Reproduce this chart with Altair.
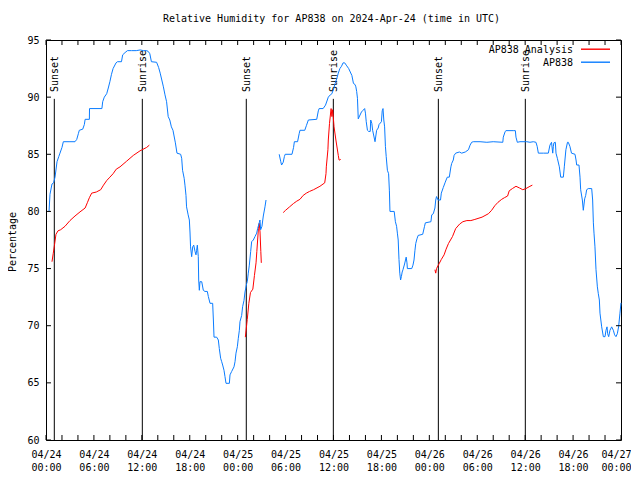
import json
import altair as alt
import pandas as pd

# ---------------- data (hours since 2024-04-24 00:00 UTC, relative humidity %) ----------------
obs1_h = [0.38, 0.5, 0.75, 0.95, 1.13, 1.38, 1.6, 1.75, 2.0, 2.17, 3.0, 3.63, 3.85, 4.05, 4.17, 4.6, 4.8, 4.9,
          5.43, 5.45, 7.0, 7.1, 7.3, 7.6, 7.8, 8.0, 8.2, 8.4, 8.77, 8.95, 9.45, 9.6, 9.9, 10.2, 10.7, 11.3, 11.8,
          12.2, 12.6, 12.8, 13.0, 13.2, 13.85, 14.1, 14.3, 14.5, 14.7, 14.9, 15.1, 15.3, 15.5, 15.7, 15.9, 16.2,
          16.4, 16.86, 16.99, 17.1, 17.3, 17.4, 17.53, 17.6, 17.8, 17.95, 18.03, 18.1, 18.24, 18.37, 18.5, 18.66,
          18.78, 18.86, 18.95, 19.07, 19.12, 19.2, 19.28, 19.5, 19.7, 19.9, 20.2, 20.33, 20.54, 20.87, 20.96,
          21.04, 21.37, 21.58, 21.7, 21.87, 22.0, 22.12, 22.29, 22.41, 22.54, 22.96, 23.04, 23.25, 23.54, 23.67,
          23.79, 23.96, 24.08, 24.21, 24.29, 24.5, 24.62, 24.79, 24.92, 25.13, 25.2, 25.33, 25.46, 25.63, 25.75,
          25.96, 26.17, 26.38, 26.5, 26.7, 26.79, 26.88, 27.04, 27.21, 27.42, 27.55]
obs1_v = [80.0, 81.5, 82.4, 82.5, 83.0, 84.35, 84.8, 85.1, 85.6, 86.1, 86.1, 86.1, 86.3, 86.8, 87.1, 87.2, 87.6, 88.06,
          88.06, 89.0, 89.0, 89.6, 90.0, 90.3, 90.8, 91.35, 92.0, 92.5, 93.0, 93.1, 93.1, 93.7, 93.9, 94.07, 94.07,
          94.07, 94.13, 94.07, 94.07, 94.0, 93.8, 93.1, 93.05, 92.6, 92.1, 91.5, 90.9, 90.2, 89.6, 88.3, 88.0, 87.4,
          87.1, 86.0, 85.1, 85.0, 84.65, 83.6, 82.9, 82.3, 81.4, 80.4, 79.7, 79.25, 78.2, 76.9, 76.04, 76.9, 77.05,
          76.5, 76.2, 76.6, 77.05, 76.04, 74.0, 73.1, 73.85, 73.85, 73.1, 73.0, 73.0, 72.55, 71.96, 71.96, 70.5,
          69.0, 69.0, 68.75, 68.0, 67.15, 66.85, 66.56, 66.1, 65.55, 64.96, 64.96, 65.7, 66.0, 66.4, 66.85, 67.6,
          68.16, 68.9, 69.6, 70.35, 70.9, 71.66, 72.2, 72.95, 73.7, 73.85, 74.6, 75.3, 76.5, 77.35, 77.5, 77.8,
          78.1, 78.5, 79.0, 79.25, 78.4, 78.7, 79.6, 80.4, 81.0]

obs2_h = [29.2, 29.4, 29.5, 29.7, 29.85, 29.95, 30.8, 31.0, 31.1, 31.5, 31.7, 31.8, 32.4, 32.6, 32.85, 33.9, 34.1,
          34.2, 34.7, 35.0, 35.35, 35.6, 35.8, 36.0, 36.2, 36.4, 36.6, 36.8, 37.0, 37.2, 37.4, 37.6, 37.9, 38.1,
          38.3, 38.5, 38.7, 38.8, 38.9, 39.0, 39.1, 39.5, 39.7, 39.9, 40.0, 40.1, 40.25, 40.4, 40.6, 40.66, 40.8,
          40.9, 41.05, 41.2, 41.3, 41.4, 41.6, 41.7, 42.0, 42.1, 42.2, 42.3, 42.4, 42.5, 42.6, 42.75, 42.9, 43.0,
          43.07, 43.6, 43.75, 43.9, 44.0, 44.1, 44.2, 44.3, 44.4, 44.5, 44.6, 44.7, 44.9, 45.1, 45.2, 45.25, 45.8,
          45.95, 46.08, 46.2, 46.3, 46.45, 46.6, 47.17, 47.4, 47.5, 48.2, 48.3, 48.5, 48.7, 48.8, 48.9, 49.1, 49.4,
          49.5, 49.75, 49.96, 50.1, 50.25, 50.5, 50.7, 50.8, 51.0, 51.1, 51.3, 51.76, 52.05, 52.5, 52.9, 53.1,
          53.3, 53.5, 54.35, 55.2, 56.0, 57.2, 57.26, 57.5, 57.6, 58.5, 58.77, 58.85, 59.02, 59.35, 60.2, 60.6,
          61.02, 61.35, 61.5, 61.65, 62.3, 62.9, 63.1, 63.3, 63.45, 63.53, 63.6, 63.78, 63.86, 64.03, 64.28, 64.45,
          64.78, 64.9, 65.1, 65.3, 65.4, 65.6, 65.8, 66.24, 66.37, 66.45, 66.74, 66.87, 66.95, 67.16, 67.28, 67.45,
          67.58, 67.7, 67.9, 68.33, 68.45, 68.54, 68.62, 68.74, 68.87, 69.04, 69.16, 69.29, 69.37, 69.58, 69.79,
          70.0, 70.12, 70.25, 70.33, 70.46, 70.62, 70.83, 71.04, 71.2, 71.37, 71.54, 71.7, 71.87, 72.0]
obs2_v = [85.0, 84.35, 84.06, 84.3, 84.8, 85.0, 85.0, 85.6, 86.1, 86.1, 86.8, 87.1, 87.1, 87.5, 88.0, 88.06, 88.8,
          89.0, 89.0, 89.3, 90.0, 90.2, 90.3, 90.7, 91.2, 91.6, 92.1, 92.5, 92.7, 93.0, 93.0, 92.8, 92.5, 92.2,
          91.9, 91.2, 91.1, 90.9, 90.5, 89.9, 88.1, 88.7, 88.85, 89.0, 88.6, 87.85, 87.1, 87.0, 87.0, 88.0, 87.7,
          87.1, 86.6, 86.1, 86.6, 87.1, 87.3, 87.6, 87.85, 88.8, 89.0, 88.0, 87.4, 85.7, 84.8, 83.6, 83.3, 81.8,
          80.0, 80.0, 79.1, 78.7, 78.1, 77.5, 75.8, 74.6, 74.0, 74.3, 74.7, 74.9, 75.4, 76.0, 75.5, 75.0, 75.0,
          75.3, 75.75, 76.6, 77.2, 77.6, 77.9, 78.0, 78.7, 79.0, 79.1, 79.7, 79.8, 80.3, 81.0, 81.3, 81.0, 81.0,
          81.6, 82.1, 82.5, 82.75, 83.0, 83.0, 83.9, 84.2, 84.5, 84.9, 85.1, 85.2, 85.1, 85.2, 85.4, 85.8,
          86.05, 86.1, 86.1, 86.05, 86.1, 86.05, 86.5, 87.0, 87.07, 87.07, 87.07, 86.5, 86.05, 86.1, 86.1, 86.05,
          86.1, 86.05, 85.7, 85.1, 85.1, 85.1, 85.8, 86.05, 85.1, 85.7, 86.0, 86.05, 85.1, 84.65, 83.9, 83.0,
          83.0, 83.9, 85.4, 86.05, 86.05, 85.7, 85.1, 85.0, 84.5, 84.06, 84.06, 83.0, 81.9, 81.0, 80.1, 81.1,
          81.4, 81.9, 82.0, 82.0, 81.0, 79.0, 78.1, 76.9, 74.9, 73.4, 72.8, 72.25, 71.1, 69.9, 69.04,
          69.04, 69.6, 69.9, 69.3, 69.04, 69.6, 69.9, 69.6, 69.2, 69.04, 69.3, 69.9, 71.1, 72.0]

ana1_h = [0.75, 0.9, 1.05, 1.25, 1.5, 1.84, 2.38, 3.0, 3.63, 4.26, 4.9, 5.2, 5.43, 5.72, 6.3, 6.85, 7.2, 7.6, 8.0,
          8.4, 8.8, 9.27, 10.1, 10.93, 11.77, 12.6, 12.94]
ana1_v = [75.6, 76.3, 77.0, 78.0, 78.3, 78.4, 78.7, 79.2, 79.6, 79.96, 80.3, 80.8, 81.2, 81.6, 81.7, 81.9, 82.3,
          82.7, 83.0, 83.3, 83.7, 83.9, 84.4, 84.9, 85.3, 85.6, 85.8]
ana2_h = [24.96, 25.2, 25.4, 25.6, 25.9, 26.1, 26.3, 26.4, 26.5, 26.6, 26.7, 26.8, 26.9, 26.96]
ana2_v = [69.0, 70.55, 71.96, 72.9, 73.2, 74.4, 75.5, 76.5, 77.5, 78.5, 78.96, 78.2, 76.5, 75.5]
ana3_h = [29.7, 30.0, 30.5, 31.0, 31.4, 31.8, 32.2, 32.6, 33.0, 33.5, 34.3, 34.9, 35.06, 35.1, 35.3, 35.35, 35.5,
          35.65, 35.7, 35.8, 35.9, 36.07, 36.3, 36.6, 36.7, 36.8, 36.9]
ana3_v = [79.9, 80.1, 80.4, 80.7, 80.9, 81.06, 81.4, 81.6, 81.75, 81.9, 82.2, 82.5, 83.3, 83.9, 85.4, 86.25, 87.7,
          88.7, 89.0, 88.3, 88.9, 87.4, 86.25, 84.9, 84.5, 84.5, 84.56]
ana4_h = [48.7, 48.8, 48.9, 49.25, 49.5, 49.85, 50.1, 50.4, 50.9, 51.3, 51.8, 52.2, 52.7, 53.2, 53.7, 54.6, 55.4,
          55.8, 56.2, 56.6, 57.06, 57.4, 57.8, 58.0, 58.4, 58.85, 59.3, 59.7, 60.1, 60.6, 60.9]
ana4_v = [74.9, 74.6, 75.0, 75.46, 75.8, 76.2, 76.7, 77.2, 77.8, 78.5, 78.9, 79.1, 79.2, 79.2, 79.3, 79.5, 79.8,
          80.1, 80.5, 80.8, 81.06, 81.2, 81.35, 81.8, 82.0, 82.2, 82.05, 81.9, 82.0, 82.2, 82.3]

series_names = ["AP838 Analysis", "AP838"]
series_colors = ["#ff0000", "#0a7cff"]

sun_h = [1.04, 12.06, 25.08, 35.98, 49.13, 60.02]
sun_labels = ["Sunset", "Sunrise", "Sunset", "Sunrise", "Sunset", "Sunrise"]

x_tick_hours = list(range(0, 73, 6))
x_tick_labels = [["04/24", "00:00"], ["04/24", "06:00"], ["04/24", "12:00"], ["04/24", "18:00"],
                 ["04/25", "00:00"], ["04/25", "06:00"], ["04/25", "12:00"], ["04/25", "18:00"],
                 ["04/26", "00:00"], ["04/26", "06:00"], ["04/26", "12:00"], ["04/26", "18:00"],
                 ["04/27", "00:00"]]
x_minor_hours = list(range(0, 73, 2))
y_ticks = [60, 65, 70, 75, 80, 85, 90, 95]

title_text = "Relative Humidity for AP838 on 2024-Apr-24 (time in UTC)"
y_title = "Percentage"

# ---------------- build tables ----------------
rows = []
for seg, (hs, vs, name) in enumerate([
    (ana1_h, ana1_v, series_names[0]), (ana2_h, ana2_v, series_names[0]),
    (ana3_h, ana3_v, series_names[0]), (ana4_h, ana4_v, series_names[0]),
    (obs1_h, obs1_v, series_names[1]), (obs2_h, obs2_v, series_names[1])]):
    for i, (h, v) in enumerate(zip(hs, vs)):
        rows.append({"h": h, "v": v, "series": name, "seg": seg, "order": i})
df = pd.DataFrame(rows)
sun_df = pd.DataFrame({"h": sun_h, "label": sun_labels})
xt_df = pd.DataFrame({"h": x_minor_hours})
yt_df = pd.DataFrame({"v": y_ticks})

FONT = "DejaVu Sans Mono"
W, H = 575, 400

label_expr = f"{json.dumps(x_tick_labels)}[round(datum.value / 6)]"
X = alt.X("h:Q", scale=alt.Scale(domain=[0, 72], nice=False, zero=False),
          axis=alt.Axis(values=x_tick_hours, labelExpr=label_expr, title=None, labelPadding=9,
                        labelLineHeight=13, labelOverlap=False, labelFlush=False,
                        labelOffset={"condition": {"test": "datum.value >= 72", "value": -5}, "value": 0}))
Y = alt.Y("v:Q", scale=alt.Scale(domain=[60, 95], nice=False, zero=False),
          axis=alt.Axis(values=y_ticks, title=None, labelPadding=7))
color = alt.Color("series:N", scale=alt.Scale(domain=series_names, range=series_colors), legend=None)

lines = alt.Chart(df).mark_line(strokeWidth=1, interpolate="linear").encode(
    x=X, y=Y, color=color, detail="seg:N", order="order:Q")

sun_rules = alt.Chart(sun_df).mark_rule(color="black", strokeWidth=1).encode(
    x=X, y=alt.datum(89.85), y2=alt.datum(60))
sun_text = alt.Chart(sun_df).mark_text(angle=270, align="left", baseline="middle", font=FONT,
                                       fontSize=10, color="black", dy=1).encode(
    x=X, y=alt.datum(90.45), text="label:N")

xt_bottom = alt.Chart(xt_df).mark_rule(color="black").encode(x=X, y=alt.value(H), y2=alt.value(H - 5))
xt_top = alt.Chart(xt_df).mark_rule(color="black").encode(x=X, y=alt.value(0), y2=alt.value(5))
yt_left = alt.Chart(yt_df).mark_rule(color="black").encode(y=Y, x=alt.value(0), x2=alt.value(5))
yt_right = alt.Chart(yt_df).mark_rule(color="black").encode(y=Y, x=alt.value(W), x2=alt.value(W - 5))

title = alt.Chart(pd.DataFrame({"t": [title_text]})).mark_text(
    font=FONT, fontSize=10, align="center", baseline="middle", color="black").encode(
    x=alt.value(W / 2 - 2), y=alt.value(-21), text="t:N")
ytitle = alt.Chart(pd.DataFrame({"t": [y_title]})).mark_text(
    font=FONT, fontSize=10, align="center", baseline="middle", angle=270, color="black").encode(
    x=alt.value(-33), y=alt.value(H / 2 + 2), text="t:N")

legend_layers = []
for i, name in enumerate(series_names):
    ly = 9.5 + 13 * i
    ldf = pd.DataFrame({"series": [name]})
    legend_layers.append(alt.Chart(ldf).mark_text(font=FONT, fontSize=10, align="right", baseline="middle",
                                                  color="black").encode(
        x=alt.value(527), y=alt.value(ly), text="series:N"))
    legend_layers.append(alt.Chart(ldf).mark_rule(strokeWidth=1.4, color=series_colors[i], opacity=1).encode(
        x=alt.value(535), x2=alt.value(564), y=alt.value(ly - 0.3)))

chart = alt.layer(
    sun_rules, sun_text, lines, xt_bottom, xt_top, yt_left, yt_right, title, ytitle, *legend_layers
).properties(
    width=W, height=H,
    autosize=alt.AutoSizeParams(type="none"),
    padding={"left": 38, "top": 32, "right": 10, "bottom": 32},
    background="white",
).configure_view(
    stroke="black", strokeWidth=1
).configure_axis(
    labelFont=FONT, labelFontSize=10, labelColor="black", ticks=False, domain=False, grid=False
)

chart.save("out.html", embed_options={"renderer": "svg", "actions": False})
